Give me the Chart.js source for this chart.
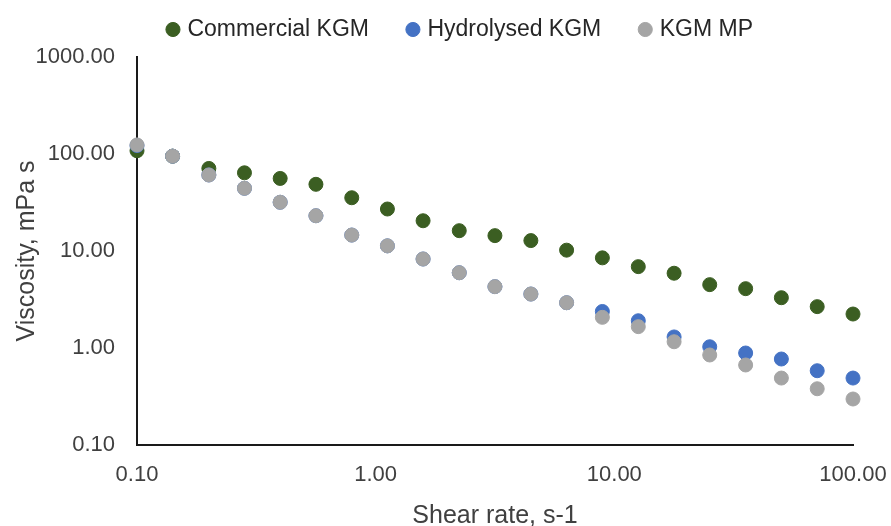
<!DOCTYPE html>
<html>
<head>
<meta charset="utf-8">
<script src="https://cdn.jsdelivr.net/npm/chart.js@4"></script>
<style>
  html, body { margin: 0; padding: 0; background: #fff; }
  #wrap { width: 891px; height: 526px; }
</style>
</head>
<body>
<div id="wrap"><canvas id="chart" width="891" height="526"></canvas></div>
<script>
// shear rate, s-1
const shearRate = [0.1, 0.141, 0.2, 0.282, 0.398, 0.562, 0.794, 1.12, 1.58, 2.24, 3.16,
  4.47, 6.31, 8.91, 12.6, 17.8, 25.1, 35.5, 50.1, 70.8, 100];

// viscosity, mPa s
const commercialKGM = [108, 95, 71, 64, 56, 48.7, 35.4, 27.1, 20.5, 16.2, 14.4,
  12.8, 10.2, 8.5, 6.9, 5.9, 4.5, 4.09, 3.3, 2.67, 2.24];
const hydrolysedKGM = [122, 95, 60.8, 44.3, 31.8, 23.1, 14.6, 11.3, 8.27, 5.97, 4.29,
  3.6, 2.93, 2.38, 1.91, 1.3, 1.03, 0.888, 0.77, 0.583, 0.49];
const kgmMP = [124, 95, 60.8, 44.3, 31.8, 23.1, 14.6, 11.3, 8.27, 5.97, 4.29,
  3.6, 2.93, 2.07, 1.66, 1.16, 0.847, 0.668, 0.49, 0.38, 0.298];

const xTicks = [0.1, 1, 10, 100];
const yTicks = [0.1, 1, 10, 100, 1000];

const FONT = '"Liberation Sans", Arial, sans-serif';
const TEXT = '#404040';

function pts(ys) {
  return shearRate.map((x, i) => ({ x: x, y: ys[i] }));
}

function series(label, ys, color, order) {
  return {
    label: label,
    data: pts(ys),
    backgroundColor: color,
    borderColor: color,
    borderWidth: 1,
    pointRadius: 7,
    pointHoverRadius: 7,
    clip: false,
    order: order
  };
}

// legend: fixed height, drawn a bit higher and to the right
const legendTweak = {
  id: 'legendTweak',
  beforeInit(chart) {
    const lg = chart.legend;
    const fit = lg.fit;
    lg.fit = function () {
      fit.call(this);
      this.height = 57;
    };
  },
  afterLayout(chart) {
    const lg = chart.legend;
    lg.top -= 23;
    lg.left += 16; lg.right += 16;
  }
};

new Chart(document.getElementById('chart'), {
  type: 'scatter',
  data: {
    datasets: [
      series('Commercial KGM', commercialKGM, '#3b5e22', 3),
      series('Hydrolysed KGM', hydrolysedKGM, '#4472c4', 2),
      series('KGM MP', kgmMP, '#a5a5a5', 1)
    ]
  },
  options: {
    responsive: false,
    animation: false,
    layout: { padding: 0 },
    plugins: {
      legend: {
        position: 'top',
        labels: {
          usePointStyle: true,
          pointStyle: 'circle',
          boxWidth: 6,
          boxHeight: 10,
          padding: 41,
          color: '#262626',
          font: { family: FONT, size: 23 },
          sort: (a, b) => a.datasetIndex - b.datasetIndex
        }
      },
      tooltip: { enabled: false }
    },
    scales: {
      x: {
        type: 'logarithmic',
        min: 0.1,
        max: 100,
        afterBuildTicks: s => { s.ticks = xTicks.map(v => ({ value: v })); },
        afterFit: s => { s.height = 81; s.paddingRight = 38; },
        grid: { display: false, drawTicks: false },
        border: { display: true, color: '#1a1a1a', width: 2 },
        ticks: {
          autoSkip: false,
          maxRotation: 0,
          padding: 17,
          color: TEXT,
          font: { family: FONT, size: 22 },
          callback: v => Number(v).toFixed(2)
        },
        title: {
          display: true,
          text: 'Shear rate, s-1',
          color: TEXT,
          padding: 0,
          font: { family: FONT, size: 25, lineHeight: 0.76 }
        }
      },
      y: {
        type: 'logarithmic',
        min: 0.1,
        max: 1000,
        afterBuildTicks: s => { s.ticks = yTicks.map(v => ({ value: v })); },
        afterFit: s => { s.width = 137; },
        grid: { display: false, drawTicks: false },
        border: { display: true, color: '#1a1a1a', width: 2 },
        ticks: {
          autoSkip: false,
          padding: 22,
          color: TEXT,
          font: { family: FONT, size: 22 },
          callback: v => Number(v).toFixed(2)
        },
        title: {
          display: true,
          text: 'Viscosity, mPa s',
          color: TEXT,
          padding: { top: 15, bottom: 0 },
          font: { family: FONT, size: 25, lineHeight: 1 }
        }
      }
    }
  },
  plugins: [legendTweak]
});
</script>
</body>
</html>
